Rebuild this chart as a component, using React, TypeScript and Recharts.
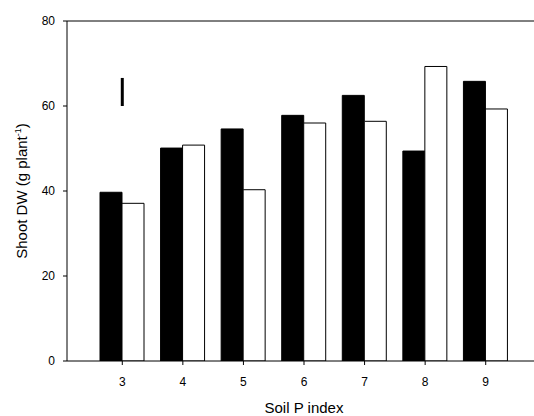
import React from 'react';
import { BarChart, Bar, XAxis, YAxis, ReferenceLine } from 'recharts';

const categories = ['3', '4', '5', '6', '7', '8', '9'];
const blackValues = [39.7, 50.1, 54.6, 57.8, 62.5, 49.4, 65.8];
const whiteValues = [37.1, 50.8, 40.3, 56.0, 56.4, 69.3, 59.3];
const yTicks = [0, 20, 40, 60, 80];
const lsdCategory = '3';
const lsdBottom = 60;
const lsdTop = 66.6;

const data = categories.map((c, i) => ({ idx: c, black: blackValues[i], white: whiteValues[i] }));

const FONT = "Arial, 'Liberation Sans', sans-serif";

const YLabel = (props: any) => {
  const vb = props.viewBox || {};
  const cx = 27;
  const cy = vb.y + vb.height / 2;
  return (
    <text
      x={cx}
      y={cy}
      transform={`rotate(-90, ${cx}, ${cy})`}
      textAnchor="middle"
      fontFamily={FONT}
      fontSize={15}
      fill="#000"
    >
      <tspan>Shoot DW (g plant</tspan>
      <tspan dy={-6} fontSize={9}>-1</tspan>
      <tspan dy={6}>)</tspan>
    </text>
  );
};

const XLabel = (props: any) => {
  return (
    <text x={304} y={413} textAnchor="middle" fontFamily={FONT} fontSize={15} fill="#000">
      Soil P index
    </text>
  );
};

export default function App() {
  return (
    <div style={{ position: 'fixed', left: 0, top: 0, background: '#fff' }}>
      <BarChart
        width={534}
        height={416}
        data={data}
        margin={{ top: 21, right: 0, bottom: 15, left: 22 }}
        barGap={0}
        barCategoryGap={0}
      >
        <XAxis
          dataKey="idx"
          padding={{ left: 25, right: 18 }}
          height={40}
          tickSize={4}
          tickMargin={12}
          stroke="#000"
          tick={{ fill: '#000', fontSize: 12, fontFamily: FONT }}
          label={{ content: XLabel }}
          tickLine={{ stroke: '#000' }}
        />
        <YAxis
          domain={[0, 80]}
          ticks={yTicks}
          width={45}
          tickSize={4}
          tickMargin={8}
          stroke="#000"
          tick={{ fill: '#000', fontSize: 12, fontFamily: FONT }}
          label={{ content: YLabel }}
          allowDataOverflow
        />
        <ReferenceLine y={80} stroke="#000" />
        <Bar dataKey="black" fill="#000" stroke="#000" strokeWidth={1} barSize={22} isAnimationActive={false} />
        <Bar dataKey="white" fill="#fff" stroke="#000" strokeWidth={1} barSize={22} isAnimationActive={false} />
        <ReferenceLine
          segment={[{ x: lsdCategory, y: lsdBottom }, { x: lsdCategory, y: lsdTop }]}
          stroke="#000"
          strokeWidth={3}
        />
      </BarChart>
    </div>
  );
}
